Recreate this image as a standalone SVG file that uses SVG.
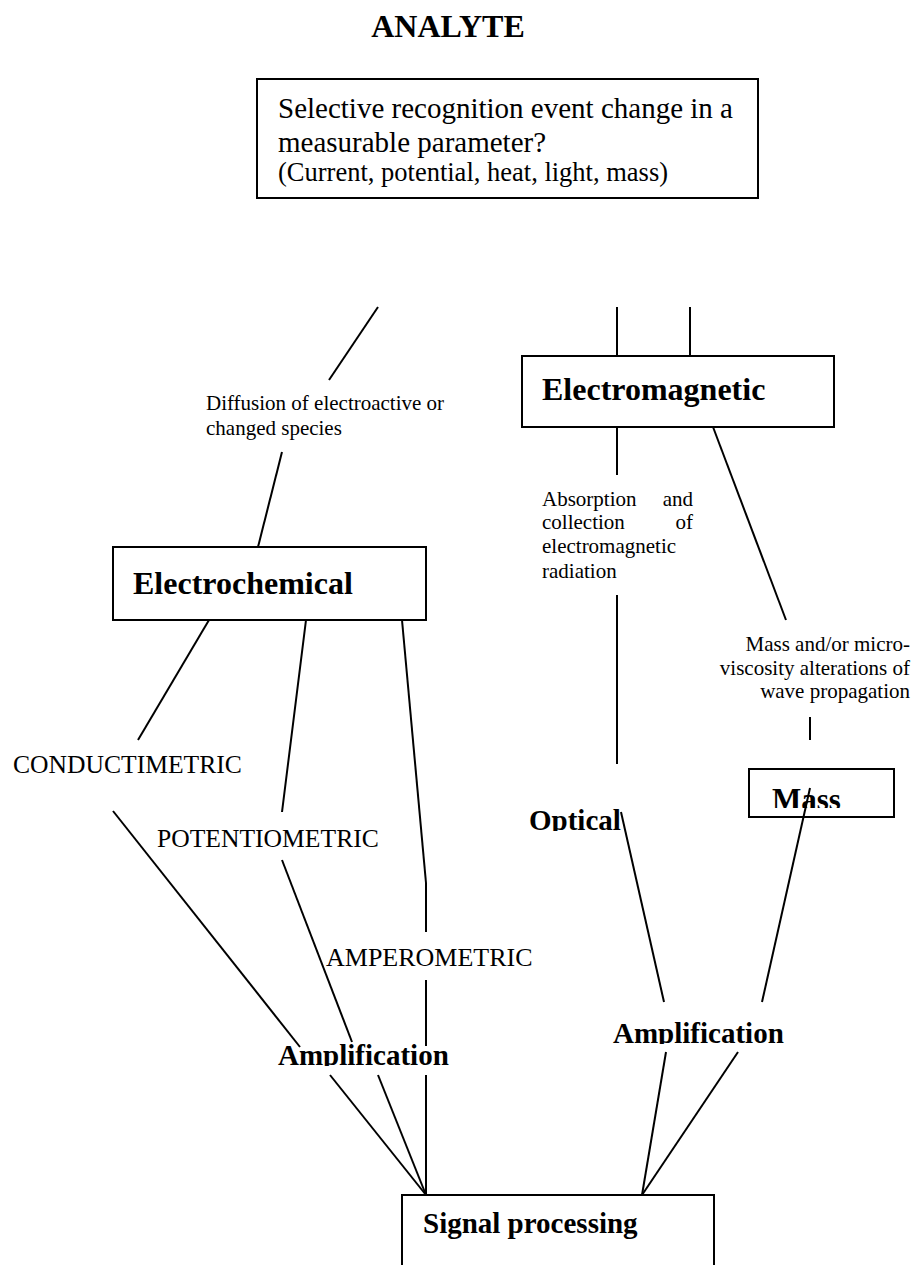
<svg xmlns="http://www.w3.org/2000/svg" width="914" height="1265" viewBox="0 0 914 1265">
<style>
.bx{fill:#fff;stroke:#000;stroke-width:2}
.ln{stroke:#000;stroke-width:2;fill:none}
.t{font-family:"Liberation Serif","Times New Roman",serif;fill:#000}
.b{font-weight:bold}
</style>
<defs>
<clipPath id="cOpt"><rect x="520" y="790" width="120" height="41"/></clipPath>
<clipPath id="cMass"><rect x="760" y="775" width="120" height="33"/></clipPath>
<clipPath id="cAmpR"><rect x="600" y="1010" width="200" height="34"/></clipPath>
<clipPath id="cAmpL"><rect x="270" y="1030" width="200" height="36"/></clipPath>
</defs>
<rect width="914" height="1265" fill="#fff"/>
<g id="analyte"><text class="t b" x="448" y="37" font-size="32" text-anchor="middle">ANALYTE</text></g>
<g id="recognition">
<rect class="bx" x="257" y="79" width="501" height="119"/>
<text class="t" x="278" y="118" font-size="29">Selective recognition event change in a</text>
<text class="t" x="278" y="152" font-size="29">measurable parameter?</text>
<text class="t" x="278" y="181" font-size="26.5">(Current, potential, heat, light, mass)</text>
</g>
<g id="diffusion">
<text class="t" x="206" y="410" font-size="21">Diffusion of electroactive or</text>
<text class="t" x="206" y="435" font-size="21">changed species</text>
</g>
<g id="electromagnetic">
<rect class="bx" x="522" y="356" width="312" height="71"/>
<text class="t b" x="542" y="400" font-size="32">Electromagnetic</text>
</g>
<g id="absorption">
<text class="t" x="542" y="506" font-size="21">Absorption</text>
<text class="t" x="693" y="506" font-size="21" text-anchor="end">and</text>
<text class="t" x="542" y="529" font-size="21">collection</text>
<text class="t" x="693" y="529" font-size="21" text-anchor="end">of</text>
<text class="t" x="542" y="553" font-size="21">electromagnetic</text>
<text class="t" x="542" y="578" font-size="21">radiation</text>
</g>
<g id="massalter">
<text class="t" x="910" y="651" font-size="21" text-anchor="end">Mass and/or micro-</text>
<text class="t" x="910" y="675" font-size="21" text-anchor="end">viscosity alterations of</text>
<text class="t" x="910" y="698" font-size="21" text-anchor="end">wave propagation</text>
</g>
<g id="electrochemical">
<rect class="bx" x="113" y="547" width="313" height="73"/>
<text class="t b" x="133" y="594" font-size="32">Electrochemical</text>
</g>
<g id="conductimetric"><text class="t" x="13" y="773" font-size="25.6">CONDUCTIMETRIC</text></g>
<g id="potentiometric"><text class="t" x="157" y="847" font-size="25.6">POTENTIOMETRIC</text></g>
<g id="amperometric"><text class="t" x="326" y="966" font-size="26">AMPEROMETRIC</text></g>
<g id="optical"><text class="t b" x="529" y="830" font-size="29" clip-path="url(#cOpt)">Optical</text></g>
<g id="mass">
<rect class="bx" x="749" y="769" width="145" height="48"/>
<text class="t b" x="772" y="810" font-size="31" clip-path="url(#cMass)">Mass</text>
</g>
<g id="amplification-left"><text class="t b" x="278" y="1065" font-size="29" clip-path="url(#cAmpL)">Amplification</text></g>
<g id="amplification-right"><text class="t b" x="613" y="1043" font-size="29" clip-path="url(#cAmpR)">Amplification</text></g>
<g id="signal">
<path class="ln" d="M402,1265 V1195 H714 V1265"/>
<text class="t b" x="423" y="1233" font-size="29">Signal processing</text>
</g>
<g id="connectors" class="ln">
<line x1="378" y1="307" x2="329" y2="380"/>
<line x1="282" y1="452" x2="258" y2="547"/>
<line x1="617" y1="307" x2="617" y2="356"/>
<line x1="690" y1="307" x2="690" y2="356"/>
<line x1="617" y1="427" x2="617" y2="475"/>
<line x1="617" y1="595" x2="617" y2="764"/>
<line x1="713" y1="427" x2="786" y2="620"/>
<line x1="810" y1="717" x2="810" y2="740"/>
<line x1="209" y1="620" x2="138" y2="740"/>
<line x1="306" y1="620" x2="282" y2="812"/>
<line x1="402" y1="620" x2="426" y2="883"/>
<line x1="426" y1="883" x2="426" y2="932"/>
<line x1="426" y1="980" x2="426" y2="1046"/>
<line x1="426" y1="1075" x2="426" y2="1195"/>
<line x1="113" y1="811" x2="300" y2="1047"/>
<line x1="330" y1="1075" x2="426" y2="1195"/>
<line x1="282" y1="860" x2="352" y2="1042"/>
<line x1="378" y1="1075" x2="426" y2="1195"/>
<line x1="621" y1="812" x2="664" y2="1002"/>
<line x1="810" y1="788" x2="762" y2="1002"/>
<line x1="666" y1="1052" x2="642" y2="1195"/>
<line x1="738" y1="1052" x2="642" y2="1195"/>
</g>
</svg>
